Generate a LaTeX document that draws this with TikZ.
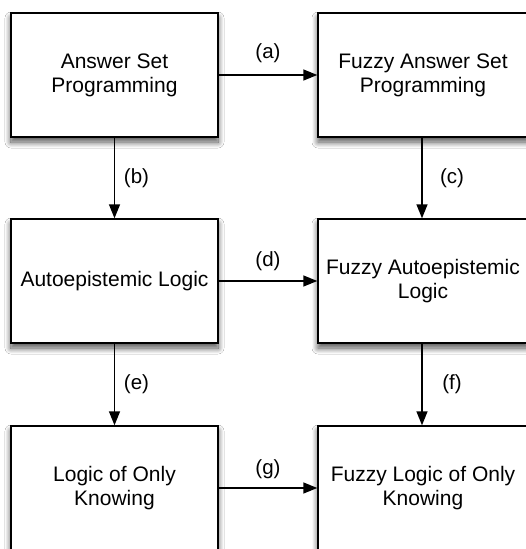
\documentclass[tikz,border=0pt]{standalone}
\usepackage{fontspec}
\setmainfont{Liberation Sans}
\usetikzlibrary{arrows.meta,shadows.blur}
\tikzset{
  box/.style={draw=black, line width=1.4pt, fill=white, rectangle,
    minimum height=124pt, align=center, inner sep=0pt,
    font=\fontsize{21}{24}\selectfont,
    blur shadow={shadow xshift=0pt, shadow yshift=-5pt, shadow blur radius=6pt, shadow blur steps=12, shadow opacity=70}},
  lbox/.style={box, minimum width=207pt},
  rbox/.style={box, minimum width=210pt},
  conn/.style={line width=1.4pt, -{Triangle[length=14pt,width=11pt]}},
  lab/.style={font=\fontsize{20.5}{24}\selectfont, inner sep=0pt}
}
\begin{document}
\begin{tikzpicture}[x=1pt,y=-1pt]
\clip (0,0) rectangle (526,549);
\fill[white] (0,0) rectangle (526,549);
\node[lbox] (asp) at (114.5,75) {Answer Set\\Programming};
\node[rbox] (fasp) at (423,75) {Fuzzy Answer Set\\Programming};
\node[lbox] (ael) at (114.5,281) {Autoepistemic Logic};
\node[rbox] (fael) at (423,281) {Fuzzy Autoepistemic\\Logic};
\node[lbox] (lok) at (114.5,488) {Logic of Only\\Knowing};
\node[rbox] (flok) at (423,488) {Fuzzy Logic of Only\\Knowing};
\draw[conn] (asp.east) -- node[lab, midway, yshift=22pt] (la) {(a)} (fasp.west |- asp.east);
\draw[conn] (asp.south) -- node[lab, midway, xshift=22pt] (lb) {(b)} (ael.north);
\draw[conn] ([xshift=-1pt]fasp.south) -- node[lab, midway, xshift=30pt] (lc) {(c)} ([xshift=-1pt]fael.north);
\draw[conn] (ael.east) -- node[lab, midway, yshift=20pt] (ld) {(d)} (fael.west);
\draw[conn] (ael.south) -- node[lab, midway, xshift=22pt] (le) {(e)} (lok.north);
\draw[conn] ([xshift=-1pt]fael.south) -- node[lab, midway, xshift=30pt] (lf) {(f)} ([xshift=-1pt]flok.north);
\draw[conn] (lok.east) -- node[lab, midway, yshift=19pt] (lg) {(g)} (flok.west);
\end{tikzpicture}
\end{document}
